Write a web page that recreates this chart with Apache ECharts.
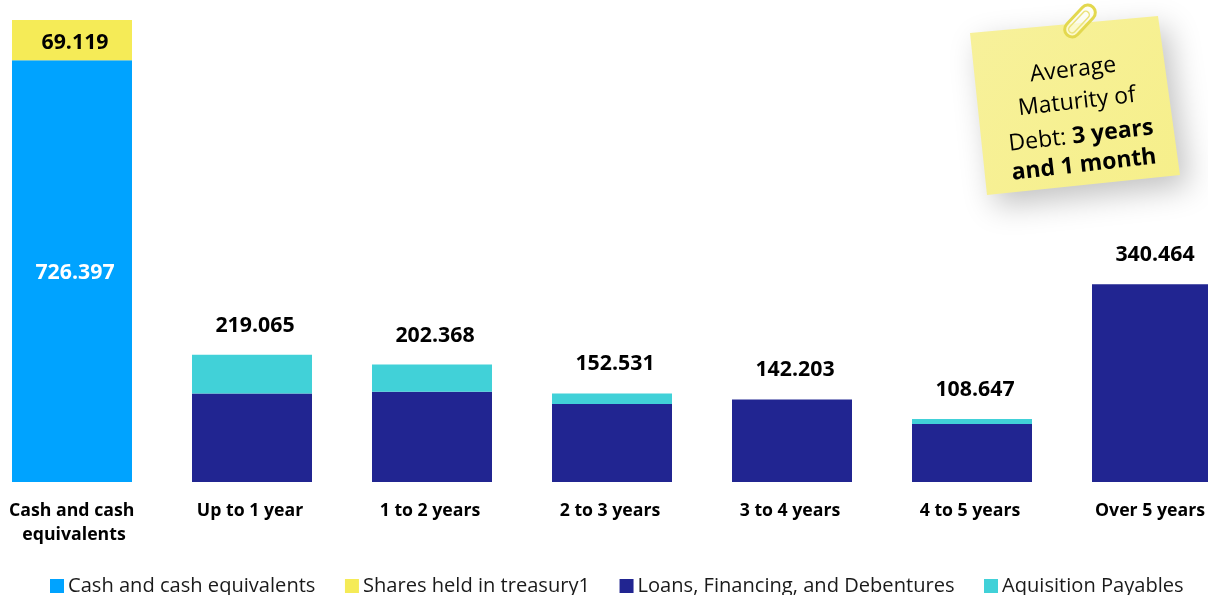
<!DOCTYPE html>
<html><head><meta charset="utf-8">
<style>html,body{margin:0;padding:0;background:#fff}#c{width:1208px;height:595px}</style>
<script src="https://cdn.jsdelivr.net/npm/echarts@6/dist/echarts.min.js"></script>
</head><body><div id="c"></div>
<script>
const categories = ['Cash and cash equivalents','Up to 1 year','1 to 2 years','2 to 3 years','3 to 4 years','4 to 5 years','Over 5 years'];
const cash = [726.397,null,null,null,null,null,null];
const shares = [69.119,null,null,null,null,null,null];
const loans = [null,152.5,155.6,134.5,142.203,100.0,340.464];
const payables = [null,66.565,46.768,18.031,null,8.647,null];
const totals = [null,219.065,202.368,152.531,142.203,108.647,340.464];
const FONT = '"Open Sans"';
const fmt = p => p.value == null ? '' : Number(p.value).toFixed(3);
const chart = echarts.init(document.getElementById('c'), null, {renderer:'canvas'});
const bar = (name, data, color, label) => ({
  name, type:'bar', stack:'a', data, barWidth:120, itemStyle:{color}, clip:false,
  label: label || {show:false}, silent:true, animation:false
});
const noteText = (x, y, rich, text) => ({
  type:'text', x, y, rotation:0.115, z:12,
  style:{text, rich, align:'center', verticalAlign:'middle', fill:'#000',
         fontFamily:FONT, fontSize:23, fontWeight:400, textAlign:'center', textVerticalAlign:'middle'}
});
chart.setOption({
  animation:false,
  backgroundColor:'#fff',
  grid:{left:72, top:20, width:1080, height:462, containLabel:false, outerBoundsMode:'none'},
  legend:{
    left:50, top:576, padding:0, icon:'rect', itemWidth:14, itemHeight:14, itemGap:29.5, selectedMode:false,
    data:['Cash and cash equivalents','Shares held in treasury1','Loans, Financing, and Debentures','Aquisition Payables'],
    textStyle:{fontFamily:FONT, fontSize:20.1, color:'#1a1a1a', padding:[0,0,0,-1]}
  },
  xAxis:{type:'category', boundaryGap:false,
    data:categories.map((c,i)=> i===0 ? {value:c, textStyle:{padding:[0,0,0,4]}} : c),
    axisLine:{show:false}, axisTick:{show:false},
    axisLabel:{interval:0, margin:17, fontFamily:FONT, fontWeight:700, fontSize:17.7, color:'#000',
      lineHeight:24, width:135, overflow:'break', verticalAlign:'top', hideOverlap:false, padding:[0,4,0,0]}},
  yAxis:{type:'value', min:0, max:795.516, show:false, splitLine:{show:false}},
  series:[
    bar('Cash and cash equivalents', cash, '#00A3FF',
      {show:true, position:'inside', offset:[3,2], formatter:fmt, color:'#fff', fontFamily:FONT, fontWeight:700, fontSize:21.3}),
    bar('Shares held in treasury1', shares, '#F5EB57',
      {show:true, position:'inside', offset:[3,3], formatter:fmt, color:'#000', fontFamily:FONT, fontWeight:700, fontSize:21.3}),
    bar('Loans, Financing, and Debentures', loans, '#212591'),
    bar('Aquisition Payables', payables, '#41D1D8'),
    {name:'Total', type:'line', data:totals, symbol:'circle', symbolSize:1, showAllSymbol:true,
     itemStyle:{color:'rgba(0,0,0,0)'}, lineStyle:{opacity:0}, silent:true, clip:false,
     label:{show:true, position:'top', distance:18, offset:[3,0], formatter:fmt, color:'#000', fontFamily:FONT, fontWeight:700, fontSize:21.3}}
  ],
  graphic:[
    {type:'polygon', z:10, shape:{points:[[970,33],[1158,16],[1180,175],[987,195]]},
     style:{fill:new echarts.graphic.LinearGradient(0,0,1,1,[{offset:0,color:'#F7F19B'},{offset:1,color:'#F6EF8A'}]),
            shadowBlur:30, shadowOffsetX:9, shadowOffsetY:11, shadowColor:'rgba(0,0,0,0.24)'}},
    {type:'group', x:1080, y:21, rotation:-0.75, z:13, children:[
      {type:'rect', z:13, shape:{x:-7.5,y:-19,width:15,height:38,r:7.5}, style:{fill:'rgba(255,255,240,0.6)', stroke:'#E3D84E', lineWidth:3}},
      {type:'rect', z:13, shape:{x:-3.5,y:-12,width:7,height:27,r:3.5}, style:{fill:'none', stroke:'#EBE27A', lineWidth:1.5}}
    ]},
    noteText(1073,70,null,'Average'),
    noteText(1077,102,null,'Maturity of'),
    noteText(1081,136,{b:{fontFamily:FONT,fontSize:23,fontWeight:700,color:'#000'},n:{fontFamily:FONT,fontSize:23,fontWeight:400,color:'#000'}},'{n|Debt: }{b|3 years}'),
    noteText(1084,165,{b:{fontFamily:FONT,fontSize:23,fontWeight:700,color:'#000'}},'{b|and 1 month}')
  ]
});
</script></body></html>
